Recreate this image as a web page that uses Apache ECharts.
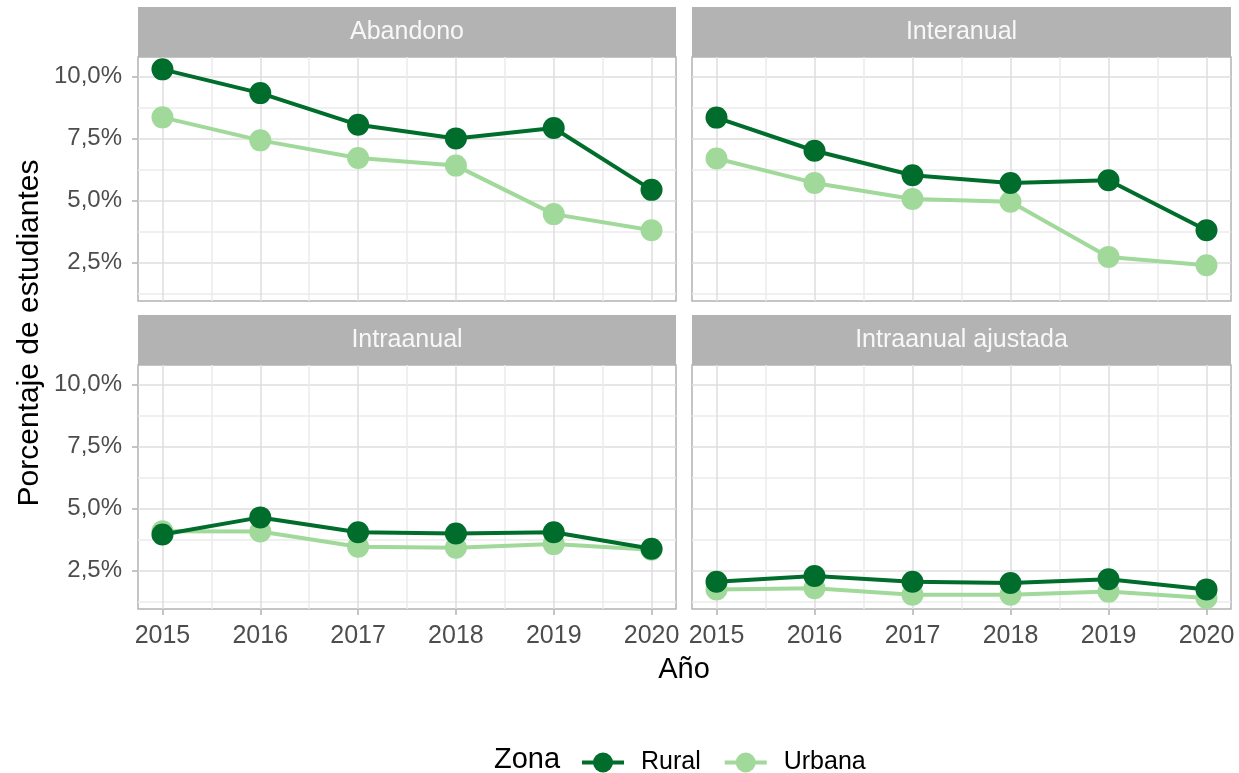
<!DOCTYPE html>
<html>
<head>
    <meta charset="utf-8">
    <title>Porcentaje de estudiantes por zona</title>
    <script src="https://cdn.jsdelivr.net/npm/echarts@6/dist/echarts.min.js"></script>
    <style>
        html, body { margin: 0; padding: 0; background: #fff; }
    </style>
</head>
<body>
    <div id="main" style="width: 1239px;height:773px;"></div>

    <script type="text/javascript">
        var years = [2015, 2016, 2017, 2018, 2019, 2020]
        var panelNames = ['Abandono', 'Interanual', 'Intraanual', 'Intraanual ajustada']
        var zonas = ['Rural', 'Urbana']
        var yTicks = [2.5, 5, 7.5, 10]

        var abandonoRural = [10.30, 9.34, 8.06, 7.51, 7.93, 5.43]
        var abandonoUrbana = [8.36, 7.43, 6.72, 6.41, 4.45, 3.80]
        var interanualRural = [8.35, 7.01, 6.02, 5.71, 5.82, 3.80]
        var interanualUrbana = [6.70, 5.71, 5.06, 4.95, 2.72, 2.38]
        var intraRural = [3.95, 4.64, 4.04, 3.99, 4.04, 3.37]
        var intraUrbana = [4.08, 4.07, 3.45, 3.41, 3.56, 3.33]
        var ajustadaRural = [2.04, 2.27, 2.04, 1.99, 2.14, 1.73]
        var ajustadaUrbana = [1.73, 1.78, 1.51, 1.51, 1.64, 1.38]

        var panelData = [
            [abandonoRural, abandonoUrbana],
            [interanualRural, interanualUrbana],
            [intraRural, intraUrbana],
            [ajustadaRural, ajustadaUrbana],
        ]

        var colores = ['#006d2c', '#a1d99b']
        var fuente = "'Liberation Sans', Arial, sans-serif"
        var gris = '#b3b3b3'
        var mayor = '#dedede'
        var menor = '#ebebeb'
        var nada = 'rgba(0,0,0,0)'

        // layout of the facets (px)
        var lefts = [138, 692]
        var widths = [538, 539]
        var tops = [57, 365]
        var alto = 244
        var strip = 50

        var pares = function(ys) {
            var r = []
            for (var i = 0; i < years.length; i++) {
                r.push([years[i], ys[i]])
            }
            return r
        }

        var etiquetaY = function(v) {
            var k = v / 2.5
            if (Math.abs(k - Math.round(k)) > 1e-6) {
                return ''
            }
            return v.toFixed(1).replace('.', ',') + '%'
        }

        var etiquetaX = function(v) {
            if (Math.abs(v - Math.round(v)) > 1e-6) {
                return ''
            }
            return String(Math.round(v))
        }

        var grids = []
        var xAxes = []
        var yAxes = []
        var series = []
        var graphics = []

        for (var p = 0; p < 4; p++) {
            var col = p % 2
            var row = Math.floor(p / 2)
            grids.push({
                left: lefts[col],
                top: tops[row],
                width: widths[col],
                height: alto,
                show: true,
                backgroundColor: '#fff',
                borderColor: gris,
                borderWidth: 1.5,
            })
            // main x axis: ticks every quarter year, only majors and minors coloured
            xAxes.push({
                type: 'value',
                gridIndex: p,
                position: 'bottom',
                min: 2014.75,
                max: 2020.25,
                interval: 0.25,
                axisLine: { show: false },
                axisTick: { show: false },
                axisLabel: {
                    show: row == 1,
                    formatter: etiquetaX,
                    margin: 15,
                    color: '#4d4d4d',
                    fontSize: 25,
                    fontFamily: fuente,
                },
                splitLine: {
                    show: true,
                    lineStyle: { color: [nada, mayor, nada, menor], width: 1.5 },
                },
            })
            yAxes.push({
                type: 'value',
                gridIndex: p,
                position: 'left',
                min: 0.9375,
                max: 10.8,
                interval: 0.3125,
                axisLine: { show: false },
                axisTick: { show: false },
                axisLabel: {
                    show: col == 0,
                    formatter: etiquetaY,
                    margin: 16,
                    color: '#4d4d4d',
                    fontSize: 24,
                    fontFamily: fuente,
                },
                splitLine: {
                    show: true,
                    lineStyle: { color: [nada, menor, nada, nada, nada, mayor, nada, nada], width: 1.5 },
                },
            })
            // series: Urbana under Rural
            for (var z = 1; z >= 0; z--) {
                series.push({
                    name: zonas[z],
                    type: 'line',
                    xAxisIndex: p,
                    yAxisIndex: p,
                    data: pares(panelData[p][z]),
                    symbol: 'circle',
                    symbolSize: 22,
                    color: colores[z],
                    lineStyle: { width: 4, color: colores[z] },
                    itemStyle: { color: colores[z] },
                    z: 3 + (1 - z),
                    animation: false,
                })
            }
            // facet strip
            graphics.push({
                type: 'rect',
                shape: { x: lefts[col], y: tops[row] - strip, width: widths[col], height: strip },
                style: { fill: gris },
            })
            graphics.push({
                type: 'text',
                x: lefts[col] + widths[col] / 2,
                y: tops[row] - strip / 2,
                style: {
                    text: panelNames[p],
                    fill: '#f8f8f8',
                    font: '25px ' + fuente,
                    align: 'center',
                    verticalAlign: 'middle',
                },
            })
        }

        // tick-mark axes on the outer panels
        for (var b = 2; b < 4; b++) {
            xAxes.push({
                type: 'value',
                gridIndex: b,
                position: 'bottom',
                min: 2014.75,
                max: 2020.25,
                axisLine: { show: false },
                axisLabel: { show: false },
                splitLine: { show: false },
                axisTick: {
                    show: true,
                    customValues: years,
                    length: 6,
                    lineStyle: { color: gris, width: 1.5 },
                },
            })
        }
        for (var l = 0; l < 4; l += 2) {
            yAxes.push({
                type: 'value',
                gridIndex: l,
                position: 'left',
                min: 0.9375,
                max: 10.8,
                axisLine: { show: false },
                axisLabel: { show: false },
                splitLine: { show: false },
                axisTick: {
                    show: true,
                    customValues: yTicks,
                    length: 6,
                    lineStyle: { color: gris, width: 1.5 },
                },
            })
        }

        // axis titles and legend title
        graphics.push({
            type: 'text',
            x: 30,
            y: 333,
            rotation: Math.PI / 2,
            style: {
                text: 'Porcentaje de estudiantes',
                fill: '#000',
                font: '30px ' + fuente,
                align: 'center',
                verticalAlign: 'middle',
            },
        })
        graphics.push({
            type: 'text',
            x: 684,
            y: 670,
            style: {
                text: 'Año',
                fill: '#000',
                font: '29px ' + fuente,
                align: 'center',
                verticalAlign: 'middle',
            },
        })
        graphics.push({
            type: 'text',
            x: 494,
            y: 760,
            style: {
                text: 'Zona',
                fill: '#000',
                font: '29px ' + fuente,
                align: 'left',
                verticalAlign: 'middle',
            },
        })

        var myChart = echarts.init(document.getElementById('main'), null, { renderer: 'canvas' })
        var option = {
            backgroundColor: '#fff',
            animation: false,
            grid: grids,
            xAxis: xAxes,
            yAxis: yAxes,
            series: series,
            legend: {
                data: zonas,
                left: 575,
                top: 745,
                itemWidth: 42,
                itemHeight: 25,
                itemGap: 22,
                lineStyle: { width: 4 },
                textStyle: {
                    color: '#000',
                    fontSize: 25,
                    fontFamily: fuente,
                    padding: [0, 0, 0, 12],
                },
            },
            graphic: graphics,
        }
        myChart.setOption(option)
    </script>
</body>
</html>
